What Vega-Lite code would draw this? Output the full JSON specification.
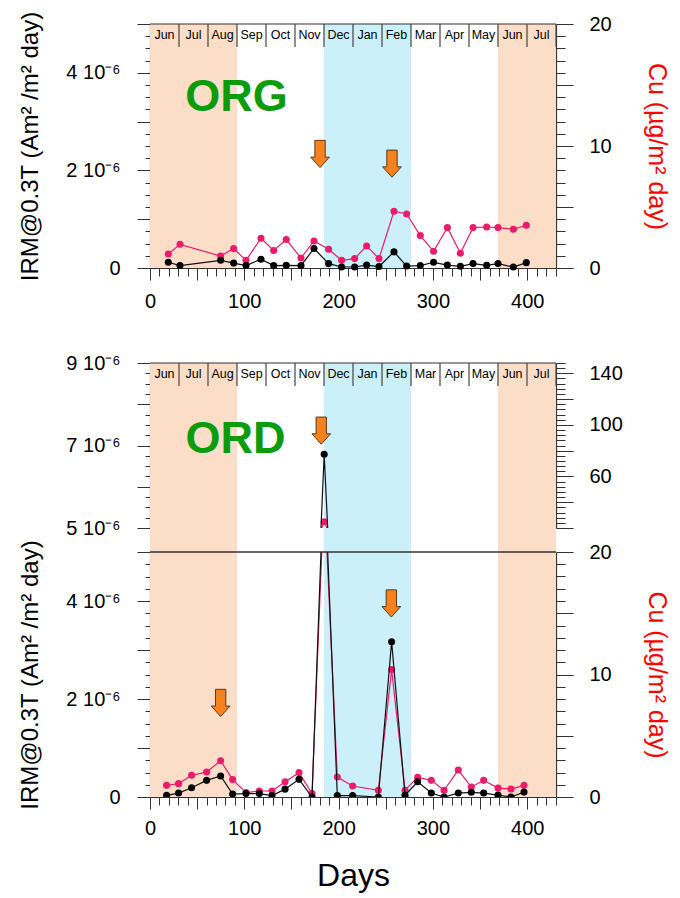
{
  "$schema": "https://vega.github.io/schema/vega-lite/v6.json",
  "padding": {"left": 18, "top": 11, "right": 5, "bottom": 4},
  "config": {
    "view": {"stroke": null},
    "font": "Liberation Sans",
    "axis": {"labelFont": "Liberation Sans", "titleFont": "Liberation Sans", "labelFontSize": 20, "titleFontSize": 24, "titleFontWeight": "normal", "labelColor": "#000", "titleColor": "#000", "domainColor": "#333", "tickColor": "#333", "domainWidth": 1.2, "tickWidth": 1, "grid": false, "zindex": 1, "labelOverlap": false, "labelFlush": false, "labelBound": false}
  },
  "datasets": {
    "seasons": [
      {"s": 0, "e": 92.25, "season": "summer"},
      {"s": 184.5, "e": 276.75, "season": "winter"},
      {"s": 369, "e": 430.5, "season": "summer"}
    ],
    "months": [
      {"month": "Jun", "s": 0, "e": 30.75, "mid": 15.375},
      {"month": "Jul", "s": 30.75, "e": 61.5, "mid": 46.125},
      {"month": "Aug", "s": 61.5, "e": 92.25, "mid": 76.875},
      {"month": "Sep", "s": 92.25, "e": 123, "mid": 107.625},
      {"month": "Oct", "s": 123, "e": 153.75, "mid": 138.375},
      {"month": "Nov", "s": 153.75, "e": 184.5, "mid": 169.125},
      {"month": "Dec", "s": 184.5, "e": 215.25, "mid": 199.875},
      {"month": "Jan", "s": 215.25, "e": 246, "mid": 230.625},
      {"month": "Feb", "s": 246, "e": 276.75, "mid": 261.375},
      {"month": "Mar", "s": 276.75, "e": 307.5, "mid": 292.125},
      {"month": "Apr", "s": 307.5, "e": 338.25, "mid": 322.875},
      {"month": "May", "s": 338.25, "e": 369, "mid": 353.625},
      {"month": "Jun", "s": 369, "e": 399.75, "mid": 384.375},
      {"month": "Jul", "s": 399.75, "e": 430.5, "mid": 415.125}
    ],
    "org": [
      {"day": 19.4, "irm": 1.17e-7, "cu": 1.15},
      {"day": 31.8, "irm": 5e-8, "cu": 1.94},
      {"day": 74.9, "irm": 1.58e-7, "cu": 0.98},
      {"day": 88.7, "irm": 1e-7, "cu": 1.59},
      {"day": 101.8, "irm": 5e-8, "cu": 0.63},
      {"day": 117.7, "irm": 1.8e-7, "cu": 2.44},
      {"day": 131.1, "irm": 5e-8, "cu": 1.43},
      {"day": 144.5, "irm": 5.5e-8, "cu": 2.33},
      {"day": 160.1, "irm": 5e-8, "cu": 0.82},
      {"day": 173.9, "irm": 4e-7, "cu": 2.22},
      {"day": 189.4, "irm": 9e-8, "cu": 1.53},
      {"day": 203.2, "irm": 2e-8, "cu": 0.63},
      {"day": 217.0, "irm": 2e-8, "cu": 0.77},
      {"day": 229.7, "irm": 6e-8, "cu": 1.81},
      {"day": 242.8, "irm": 3e-8, "cu": 0.77},
      {"day": 258.7, "irm": 3.3e-7, "cu": 4.65},
      {"day": 272.1, "irm": 4e-8, "cu": 4.43},
      {"day": 286.6, "irm": 5e-8, "cu": 2.66},
      {"day": 300.7, "irm": 1.17e-7, "cu": 1.37},
      {"day": 315.3, "irm": 6e-8, "cu": 3.31},
      {"day": 329.1, "irm": 3.5e-8, "cu": 1.21},
      {"day": 342.5, "irm": 9e-8, "cu": 3.31},
      {"day": 357.0, "irm": 5.5e-8, "cu": 3.36},
      {"day": 369.0, "irm": 9e-8, "cu": 3.31},
      {"day": 385.3, "irm": 2e-8, "cu": 3.17},
      {"day": 399.0, "irm": 1.1e-7, "cu": 3.5}
    ],
    "ord": [
      {"day": 17.6, "irm": 3.5e-8, "cu": 0.95},
      {"day": 30.3, "irm": 8e-8, "cu": 1.09},
      {"day": 44.1, "irm": 1.9e-7, "cu": 1.77},
      {"day": 60.0, "irm": 3.4e-7, "cu": 2.04},
      {"day": 74.9, "irm": 4.3e-7, "cu": 2.96},
      {"day": 87.6, "irm": 6e-8, "cu": 1.42},
      {"day": 101.8, "irm": 7e-8, "cu": 0.36},
      {"day": 115.9, "irm": 7e-8, "cu": 0.49},
      {"day": 129.4, "irm": 3e-8, "cu": 0.49},
      {"day": 143.2, "irm": 1.6e-7, "cu": 1.25},
      {"day": 158.0, "irm": 3.6e-7, "cu": 1.99},
      {"day": 171.8, "irm": 0, "cu": 0.28},
      {"day": 184.7, "irm": 6.79e-6, "cu": 24.9},
      {"day": 198.6, "irm": 3e-8, "cu": 1.63},
      {"day": 214.9, "irm": 3e-8, "cu": 0.9},
      {"day": 242.1, "irm": 0, "cu": 0.55},
      {"day": 256.2, "irm": 3.17e-6, "cu": 10.4},
      {"day": 270.4, "irm": 3.5e-8, "cu": 0.55},
      {"day": 283.8, "irm": 3.1e-7, "cu": 1.6},
      {"day": 298.3, "irm": 8e-8, "cu": 1.36},
      {"day": 311.8, "irm": 0, "cu": 0.55},
      {"day": 326.9, "irm": 8e-8, "cu": 2.2},
      {"day": 340.7, "irm": 9.6e-8, "cu": 0.81},
      {"day": 353.8, "irm": 8e-8, "cu": 1.36},
      {"day": 369.0, "irm": 4e-8, "cu": 0.73},
      {"day": 382.8, "irm": 0, "cu": 0.65},
      {"day": 396.6, "irm": 1e-7, "cu": 0.95}
    ]
  },
  "spacing": 95,
  "bounds": "flush",
  "vconcat": [
    {
      "width": 406,
      "height": 244,
      "resolve": {"scale": {"y": "independent"}},
      "layer": [
        {
          "layer": [
            {
              "data": {"name": "seasons"},
              "mark": {"type": "rect"},
              "encoding": {
                "x": {"field": "s", "type": "quantitative", "scale": {"domain": [0, 430.5], "nice": false, "zero": false},
                  "axis": {"orient": "bottom", "title": null, "tickCount": 1000, "values": [0,10,20,30,40,50,60,70,80,90,100,110,120,130,140,150,160,170,180,190,200,210,220,230,240,250,260,270,280,290,300,310,320,330,340,350,360,370,380,390,400,410,420,430],
                    "labelExpr": "datum.value % 100 == 0 ? datum.value : ''",
                    "tickSize": {"condition": {"test": "datum.value % 50 == 0", "value": 12}, "value": 8},
                    "labelPadding": 11}},
                "x2": {"field": "e"},
                "color": {"field": "season", "type": "nominal", "scale": {"domain": ["summer", "winter"], "range": ["#FCDEC8", "#CCF0FA"]}, "legend": null}
              }
            },
            {
              "data": {"name": "org"},
              "mark": {"type": "line", "color": "#EC1B6B", "strokeWidth": 1.2},
              "encoding": {
                "x": {"field": "day", "type": "quantitative", "scale": {"domain": [0, 430.5], "nice": false, "zero": false}},
                "y": {"field": "cu", "type": "quantitative", "scale": {"domain": [0, 20], "nice": false},
                  "axis": {"orient": "right", "title": "Cu (µg/m² day)", "titleColor": "#FF0000", "titleFontSize": 25, "tickCount": 1000,
                    "values": [0,1,2,3,4,5,6,7,8,9,10,11,12,13,14,15,16,17,18,19,20],
                    "labelExpr": "datum.value % 10 == 0 ? datum.value : ''",
                    "tickSize": {"condition": {"test": "datum.value % 5 == 0", "value": 17}, "value": 9},
                    "labelPadding": 16, "titlePadding": 32}}
              }
            },
            {
              "data": {"name": "org"},
              "mark": {"type": "point", "filled": true, "color": "#EC1B6B", "size": 50, "opacity": 1},
              "encoding": {
                "x": {"field": "day", "type": "quantitative", "scale": {"domain": [0, 430.5], "nice": false, "zero": false}},
                "y": {"field": "cu", "type": "quantitative", "scale": {"domain": [0, 20], "nice": false}}
              }
            }
          ]
        },
        {
          "layer": [
            {
              "data": {"values": [{}]},
              "mark": {"type": "rule", "color": "#333", "strokeWidth": 1.2},
              "encoding": {"y": {"datum": 5e-6, "type": "quantitative", "scale": {"domain": [0, 5e-6], "nice": false}}}
            },
            {
              "data": {"name": "months"},
              "mark": {"type": "rule", "color": "#444", "strokeWidth": 1.2},
              "encoding": {
                "x": {"field": "e", "type": "quantitative", "scale": {"domain": [0, 430.5], "nice": false, "zero": false}},
                "y": {"datum": 5e-6, "type": "quantitative", "scale": {"domain": [0, 5e-6], "nice": false}},
                "y2": {"datum": 4.529e-6}
              }
            },
            {
              "data": {"name": "months"},
              "mark": {"type": "text", "fontSize": 12.5, "color": "#000", "baseline": "middle", "align": "center"},
              "encoding": {
                "x": {"field": "mid", "type": "quantitative", "scale": {"domain": [0, 430.5], "nice": false, "zero": false}},
                "y": {"datum": 4.768e-6, "type": "quantitative", "scale": {"domain": [0, 5e-6], "nice": false}},
                "text": {"field": "month"}
              }
            },
            {
              "data": {"values": [{"label": "ORG", "day": 91.7, "irm": 3.22e-6}]},
              "mark": {"type": "text", "fontSize": 45, "fontWeight": "bold", "color": "#0B9B0B", "baseline": "alphabetic", "align": "center"},
              "encoding": {
                "x": {"field": "day", "type": "quantitative", "scale": {"domain": [0, 430.5], "nice": false, "zero": false}},
                "y": {"field": "irm", "type": "quantitative", "scale": {"domain": [0, 5e-6], "nice": false}},
                "text": {"field": "label"}
              }
            },
            {
              "data": {"values": [{"day": 180.3, "irm": 2.336e-6}, {"day": 256.6, "irm": 2.137e-6}]},
              "mark": {"type": "point", "shape": "M-0.38,-1L0.38,-1L0.38,0.23L0.69,0.23L0,1L-0.69,0.23L-0.38,0.23Z", "size": 740, "filled": true, "fill": "#F5821F", "stroke": "#5B3A1A", "strokeWidth": 1, "opacity": 1},
              "encoding": {
                "x": {"field": "day", "type": "quantitative", "scale": {"domain": [0, 430.5], "nice": false, "zero": false}},
                "y": {"field": "irm", "type": "quantitative", "scale": {"domain": [0, 5e-6], "nice": false}}
              }
            },
            {
              "data": {"name": "org"},
              "mark": {"type": "line", "color": "#111", "strokeWidth": 1.2},
              "encoding": {
                "x": {"field": "day", "type": "quantitative", "scale": {"domain": [0, 430.5], "nice": false, "zero": false}},
                "y": {"field": "irm", "type": "quantitative", "scale": {"domain": [0, 5e-6], "nice": false},
                  "axis": {"orient": "left", "title": "IRM@0.3T (Am² /m² day)", "tickCount": 1000,
                    "values": [0,2.5e-7,5e-7,7.5e-7,1e-6,1.25e-6,1.5e-6,1.75e-6,2e-6,2.25e-6,2.5e-6,2.75e-6,3e-6,3.25e-6,3.5e-6,3.75e-6,4e-6,4.25e-6,4.5e-6,4.75e-6,5e-6],
                    "labelExpr": "(abs(datum.value*1e6 - round(datum.value*1e6)) < 0.01 && round(datum.value*1e6) % 2 == 0) ? (datum.value == 0 ? '0' : round(datum.value*1e6) + ' 10⁻⁶') : ''",
                    "tickSize": {"condition": {"test": "abs(datum.value*1e6 - round(datum.value*1e6)) < 0.01", "value": 13}, "value": 5},
                    "labelPadding": 17, "titlePadding": 23}}
              }
            },
            {
              "data": {"name": "org"},
              "mark": {"type": "point", "filled": true, "color": "#000", "size": 50, "opacity": 1},
              "encoding": {
                "x": {"field": "day", "type": "quantitative", "scale": {"domain": [0, 430.5], "nice": false, "zero": false}},
                "y": {"field": "irm", "type": "quantitative", "scale": {"domain": [0, 5e-6], "nice": false}}
              }
            }
          ]
        }
      ]
    },
    {
      "spacing": 0,
      "bounds": "flush",
      "vconcat": [
        {
          "width": 406,
          "height": 165,
          "resolve": {"scale": {"y": "independent"}},
          "layer": [
            {
              "layer": [
                {
                  "data": {"name": "seasons"},
                  "mark": {"type": "rect"},
                  "encoding": {
                    "x": {"field": "s", "type": "quantitative", "scale": {"domain": [0, 430.5], "nice": false, "zero": false}, "axis": null},
                    "x2": {"field": "e"},
                    "color": {"field": "season", "type": "nominal", "scale": {"domain": ["summer", "winter"], "range": ["#FCDEC8", "#CCF0FA"]}, "legend": null}
                  }
                },
                {
                  "data": {"name": "ord"},
                  "mark": {"type": "line", "color": "#EC1B6B", "strokeWidth": 1.2, "clip": true},
                  "encoding": {
                    "x": {"field": "day", "type": "quantitative", "scale": {"domain": [0, 430.5], "nice": false, "zero": false}, "axis": null},
                    "y": {"field": "cu", "type": "quantitative", "scale": {"domain": [20, 148], "nice": false, "zero": false},
                      "axis": {"orient": "right", "title": null, "tickCount": 1000,
                        "values": [20,24,28,32,36,40,44,48,52,56,60,64,68,72,76,80,84,88,92,96,100,104,108,112,116,120,124,128,132,136,140,144,148],
                        "labelExpr": "(datum.value == 60 || datum.value == 100 || datum.value == 140) ? datum.value : ''",
                        "tickSize": {"condition": {"test": "datum.value % 20 == 0", "value": 17}, "value": 9},
                        "labelPadding": 16}}
                  }
                },
                {
                  "data": {"name": "ord"},
                  "mark": {"type": "point", "filled": true, "color": "#EC1B6B", "size": 50, "opacity": 1, "clip": true},
                  "encoding": {
                    "x": {"field": "day", "type": "quantitative", "scale": {"domain": [0, 430.5], "nice": false, "zero": false}, "axis": null},
                    "y": {"field": "cu", "type": "quantitative", "scale": {"domain": [20, 148], "nice": false, "zero": false}}
                  }
                }
              ]
            },
            {
              "layer": [
                {
                  "data": {"values": [{}]},
                  "mark": {"type": "rule", "color": "#333", "strokeWidth": 1.2},
                  "encoding": {"y": {"datum": 9e-6, "type": "quantitative", "scale": {"domain": [5e-6, 9e-6], "nice": false, "zero": false}}}
                },
                {
                  "data": {"name": "months"},
                  "mark": {"type": "rule", "color": "#444", "strokeWidth": 1.2},
                  "encoding": {
                    "x": {"field": "e", "type": "quantitative", "scale": {"domain": [0, 430.5], "nice": false, "zero": false}, "axis": null},
                    "y": {"datum": 9e-6, "type": "quantitative", "scale": {"domain": [5e-6, 9e-6], "nice": false, "zero": false}},
                    "y2": {"datum": 8.443e-6}
                  }
                },
                {
                  "data": {"name": "months"},
                  "mark": {"type": "text", "fontSize": 12.5, "color": "#000", "baseline": "middle", "align": "center"},
                  "encoding": {
                    "x": {"field": "mid", "type": "quantitative", "scale": {"domain": [0, 430.5], "nice": false, "zero": false}, "axis": null},
                    "y": {"datum": 8.733e-6, "type": "quantitative", "scale": {"domain": [5e-6, 9e-6], "nice": false, "zero": false}},
                    "text": {"field": "month"}
                  }
                },
                {
                  "data": {"values": [{"label": "ORD", "day": 90.7, "irm": 6.82e-6}]},
                  "mark": {"type": "text", "fontSize": 45, "fontWeight": "bold", "color": "#0B9B0B", "baseline": "alphabetic", "align": "center"},
                  "encoding": {
                    "x": {"field": "day", "type": "quantitative", "scale": {"domain": [0, 430.5], "nice": false, "zero": false}, "axis": null},
                    "y": {"field": "irm", "type": "quantitative", "scale": {"domain": [5e-6, 9e-6], "nice": false, "zero": false}},
                    "text": {"field": "label"}
                  }
                },
                {
                  "data": {"values": [{"day": 181.6, "irm": 7.36e-6}]},
                  "mark": {"type": "point", "shape": "M-0.38,-1L0.38,-1L0.38,0.23L0.69,0.23L0,1L-0.69,0.23L-0.38,0.23Z", "size": 740, "filled": true, "fill": "#F5821F", "stroke": "#5B3A1A", "strokeWidth": 1, "opacity": 1},
                  "encoding": {
                    "x": {"field": "day", "type": "quantitative", "scale": {"domain": [0, 430.5], "nice": false, "zero": false}, "axis": null},
                    "y": {"field": "irm", "type": "quantitative", "scale": {"domain": [5e-6, 9e-6], "nice": false, "zero": false}}
                  }
                },
                {
                  "data": {"name": "ord"},
                  "mark": {"type": "line", "color": "#111", "strokeWidth": 1.2, "clip": true},
                  "encoding": {
                    "x": {"field": "day", "type": "quantitative", "scale": {"domain": [0, 430.5], "nice": false, "zero": false}, "axis": null},
                    "y": {"field": "irm", "type": "quantitative", "scale": {"domain": [5e-6, 9e-6], "nice": false, "zero": false},
                      "axis": {"orient": "left", "title": null, "tickCount": 1000,
                        "values": [5e-6,5.25e-6,5.5e-6,5.75e-6,6e-6,6.25e-6,6.5e-6,6.75e-6,7e-6,7.25e-6,7.5e-6,7.75e-6,8e-6,8.25e-6,8.5e-6,8.75e-6,9e-6],
                        "labelExpr": "(abs(datum.value*1e6 - round(datum.value*1e6)) < 0.01 && round(datum.value*1e6) % 2 == 1) ? round(datum.value*1e6) + ' 10⁻⁶' : ''",
                        "tickSize": {"condition": {"test": "abs(datum.value*1e6 - round(datum.value*1e6)) < 0.01", "value": 13}, "value": 5},
                        "labelPadding": 17}}
                  }
                },
                {
                  "data": {"name": "ord"},
                  "mark": {"type": "point", "filled": true, "color": "#000", "size": 50, "opacity": 1, "clip": true},
                  "encoding": {
                    "x": {"field": "day", "type": "quantitative", "scale": {"domain": [0, 430.5], "nice": false, "zero": false}, "axis": null},
                    "y": {"field": "irm", "type": "quantitative", "scale": {"domain": [5e-6, 9e-6], "nice": false, "zero": false}}
                  }
                }
              ]
            }
          ]
        },
        {
          "width": 406,
          "height": 24,
          "data": {"name": "seasons"},
          "mark": {"type": "rect"},
          "encoding": {
            "x": {"field": "s", "type": "quantitative", "scale": {"domain": [0, 430.5], "nice": false, "zero": false}, "axis": null},
            "x2": {"field": "e"},
            "color": {"field": "season", "type": "nominal", "scale": {"domain": ["summer", "winter"], "range": ["#FCDEC8", "#CCF0FA"]}, "legend": null}
          }
        },
        {
          "width": 406,
          "height": 245,
          "resolve": {"scale": {"y": "independent"}},
          "layer": [
            {
              "layer": [
                {
                  "data": {"name": "seasons"},
                  "mark": {"type": "rect"},
                  "encoding": {
                    "x": {"field": "s", "type": "quantitative", "scale": {"domain": [0, 430.5], "nice": false, "zero": false},
                      "axis": {"orient": "bottom", "title": "Days", "titleFontSize": 32, "titlePadding": 22, "tickCount": 1000, "values": [0,10,20,30,40,50,60,70,80,90,100,110,120,130,140,150,160,170,180,190,200,210,220,230,240,250,260,270,280,290,300,310,320,330,340,350,360,370,380,390,400,410,420,430],
                        "labelExpr": "datum.value % 100 == 0 ? datum.value : ''",
                        "tickSize": {"condition": {"test": "datum.value % 50 == 0", "value": 12}, "value": 8},
                        "labelPadding": 9}},
                    "x2": {"field": "e"},
                    "color": {"field": "season", "type": "nominal", "scale": {"domain": ["summer", "winter"], "range": ["#FCDEC8", "#CCF0FA"]}, "legend": null}
                  }
                },
                {
                  "data": {"name": "ord"},
                  "mark": {"type": "line", "color": "#EC1B6B", "strokeWidth": 1.2, "clip": true},
                  "encoding": {
                    "x": {"field": "day", "type": "quantitative", "scale": {"domain": [0, 430.5], "nice": false, "zero": false}},
                    "y": {"field": "cu", "type": "quantitative", "scale": {"domain": [0, 20], "nice": false},
                      "axis": {"orient": "right", "title": "Cu (µg/m² day)", "titleColor": "#FF0000", "titleFontSize": 25, "tickCount": 1000,
                        "values": [0,1,2,3,4,5,6,7,8,9,10,11,12,13,14,15,16,17,18,19,20],
                        "labelExpr": "datum.value % 10 == 0 ? datum.value : ''",
                        "tickSize": {"condition": {"test": "datum.value % 5 == 0", "value": 17}, "value": 9},
                        "labelPadding": 16, "titlePadding": 32}}
                  }
                },
                {
                  "data": {"name": "ord"},
                  "mark": {"type": "point", "filled": true, "color": "#EC1B6B", "size": 50, "opacity": 1, "clip": true},
                  "encoding": {
                    "x": {"field": "day", "type": "quantitative", "scale": {"domain": [0, 430.5], "nice": false, "zero": false}},
                    "y": {"field": "cu", "type": "quantitative", "scale": {"domain": [0, 20], "nice": false}}
                  }
                }
              ]
            },
            {
              "layer": [
                {
                  "data": {"values": [{}]},
                  "mark": {"type": "rule", "color": "#333", "strokeWidth": 1.5},
                  "encoding": {"y": {"datum": 5e-6, "type": "quantitative", "scale": {"domain": [0, 5e-6], "nice": false}}}
                },
                {
                  "data": {"values": [{"day": 74.9, "irm": 1.92e-6}, {"day": 255.9, "irm": 3.95e-6}]},
                  "mark": {"type": "point", "shape": "M-0.38,-1L0.38,-1L0.38,0.23L0.69,0.23L0,1L-0.69,0.23L-0.38,0.23Z", "size": 740, "filled": true, "fill": "#F5821F", "stroke": "#5B3A1A", "strokeWidth": 1, "opacity": 1},
                  "encoding": {
                    "x": {"field": "day", "type": "quantitative", "scale": {"domain": [0, 430.5], "nice": false, "zero": false}},
                    "y": {"field": "irm", "type": "quantitative", "scale": {"domain": [0, 5e-6], "nice": false}}
                  }
                },
                {
                  "data": {"name": "ord"},
                  "mark": {"type": "line", "color": "#111", "strokeWidth": 1.2, "clip": true},
                  "encoding": {
                    "x": {"field": "day", "type": "quantitative", "scale": {"domain": [0, 430.5], "nice": false, "zero": false}},
                    "y": {"field": "irm", "type": "quantitative", "scale": {"domain": [0, 5e-6], "nice": false},
                      "axis": {"orient": "left", "title": "IRM@0.3T (Am² /m² day)", "tickCount": 1000,
                        "values": [0,2.5e-7,5e-7,7.5e-7,1e-6,1.25e-6,1.5e-6,1.75e-6,2e-6,2.25e-6,2.5e-6,2.75e-6,3e-6,3.25e-6,3.5e-6,3.75e-6,4e-6,4.25e-6,4.5e-6,4.75e-6,5e-6],
                        "labelExpr": "(abs(datum.value*1e6 - round(datum.value*1e6)) < 0.01 && round(datum.value*1e6) % 2 == 0) ? (datum.value == 0 ? '0' : round(datum.value*1e6) + ' 10⁻⁶') : ''",
                        "tickSize": {"condition": {"test": "abs(datum.value*1e6 - round(datum.value*1e6)) < 0.01", "value": 13}, "value": 5},
                        "labelPadding": 17, "titlePadding": 23}}
                  }
                },
                {
                  "data": {"name": "ord"},
                  "mark": {"type": "point", "filled": true, "color": "#000", "size": 50, "opacity": 1, "clip": true},
                  "encoding": {
                    "x": {"field": "day", "type": "quantitative", "scale": {"domain": [0, 430.5], "nice": false, "zero": false}},
                    "y": {"field": "irm", "type": "quantitative", "scale": {"domain": [0, 5e-6], "nice": false}}
                  }
                }
              ]
            }
          ]
        }
      ]
    }
  ]
}
